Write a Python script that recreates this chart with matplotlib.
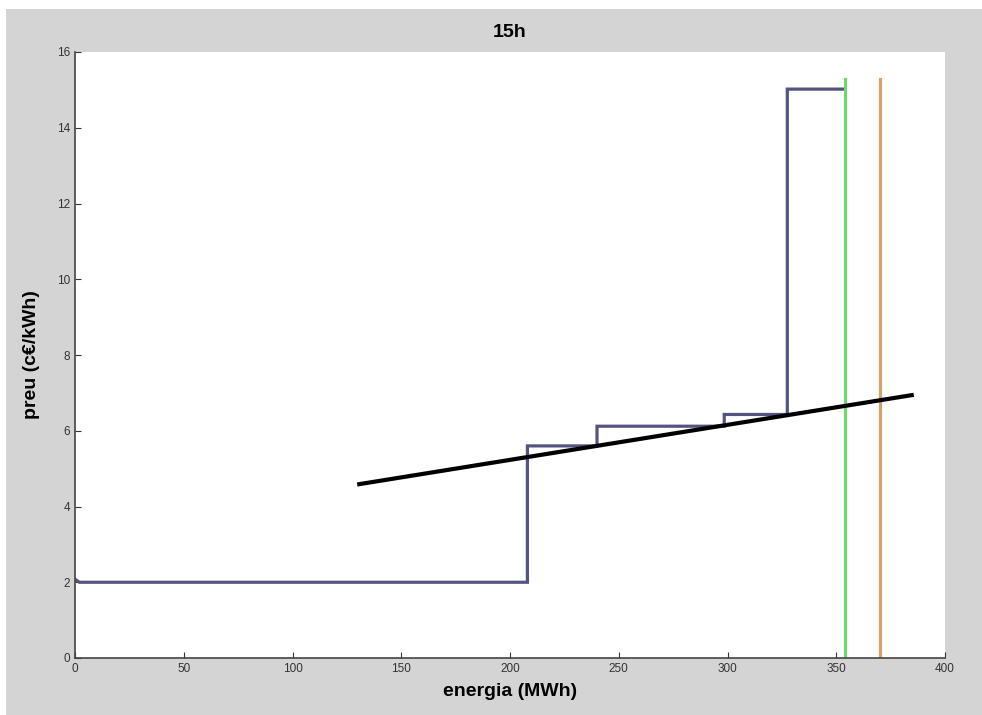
import matplotlib
matplotlib.use('Agg')
import matplotlib.pyplot as plt
from matplotlib.patches import Rectangle

# corba d'oferta (esglaons)
energia = [0, 2, 208, 208, 240, 240, 298.5, 298.5, 327.5, 327.5, 353]
preu = [2.08, 2.0, 2.0, 5.6, 5.6, 6.12, 6.12, 6.43, 6.43, 15.02, 15.02]

# corba de demanda (recta)
dem_energia = [130.7, 384.7]
dem_preu = [4.59, 6.94]

# linies verticals
x_verd = 354
x_taronja = 370
y_vert_top = 15.28

xticks = [0, 50, 100, 150, 200, 250, 300, 350, 400]
yticks = [0, 2, 4, 6, 8, 10, 12, 14, 16]

plt.rcParams['font.family'] = ['Liberation Sans', 'DejaVu Sans']

fig = plt.figure(figsize=(9.82, 7.15), dpi=100, facecolor='#d4d4d4')
# franja blanca de la captura
fig.patches.append(Rectangle((0, 1 - 9 / 715), 1, 9 / 715, transform=fig.transFigure,
                             facecolor='white', edgecolor='none', zorder=0))
fig.patches.append(Rectangle((0, 0), 6 / 982, 1, transform=fig.transFigure,
                             facecolor='white', edgecolor='none', zorder=0))

ax = fig.add_axes([75 / 982, 57 / 715, 870 / 982, 606 / 715])
ax.set_facecolor('white')

ax.plot(energia, preu, color='#545480', lw=2.3, solid_joinstyle='miter')
ax.plot([x_verd, x_verd], [0, y_vert_top], color='#6ed86a', lw=2.3)
ax.plot([x_taronja, x_taronja], [0, y_vert_top], color='#d6a264', lw=2.3)
ax.plot(dem_energia, dem_preu, color='black', lw=3)

ax.set_xlim(0, 400)
ax.set_ylim(0, 16)
ax.set_xticks(xticks)
ax.set_yticks(yticks)
ax.tick_params(direction='in', length=4, labelsize=8.5, colors='#333333', width=0.8)
for s in ['top', 'right']:
    ax.spines[s].set_visible(False)
for s in ['left', 'bottom']:
    ax.spines[s].set_color('#444444')
    ax.spines[s].set_linewidth(1.2)

ax.set_xlabel('energia (MWh)', fontsize=14, fontweight='bold', labelpad=6)
ax.set_ylabel('preu (c€/kWh)', fontsize=14, fontweight='bold', labelpad=12)
ax.set_title('15h', fontsize=14, fontweight='bold', pad=11)

fig.savefig('out.png', dpi=100, facecolor=fig.get_facecolor())
